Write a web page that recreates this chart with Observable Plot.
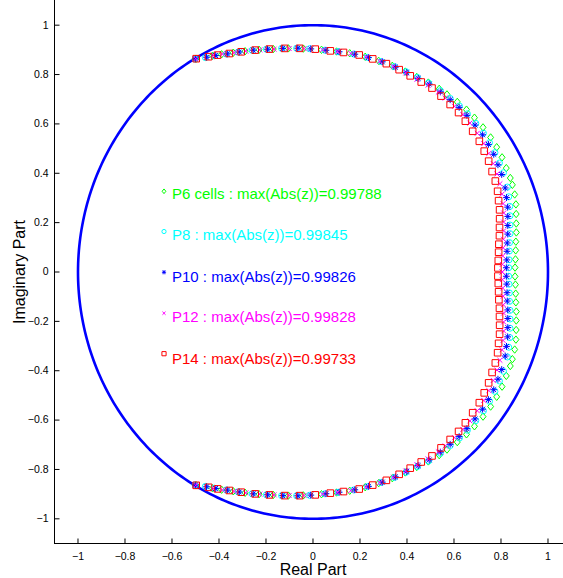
<!DOCTYPE html>
<html><head><meta charset="utf-8">
<script src="https://cdn.jsdelivr.net/npm/d3@7"></script>
<script src="https://cdn.jsdelivr.net/npm/@observablehq/plot@0.6"></script>
<style>html,body{margin:0;padding:0;background:#fff}#chart svg{display:block}</style>
</head><body><div id="chart"></div>
<script>
// ---- data: eigenvalues (upper half-plane; conjugates mirror them), polar form: angle in degrees, modulus
const seriesNames = ["P6 cells", "P8", "P10", "P12", "P14"];
const seriesColors = ["#00ff00", "#00ffff", "#0000ff", "#ff00ff", "#ff0000"];
const seriesMaxAbs = ["0.99788", "0.99845", "0.99826", "0.99828", "0.99733"];

const p6Angle = [119.9,116.0,113.8,110.9,107.9,104.3,100.6,96.6,92.6,87.7,83.6,80.0,75.7,71.9,68.0,64.2,60.8,57.4,54.1,51.6,48.3,45.2,42.3,39.0,35.8,32.9,30.0,27.1,24.4,22.6,20.1,17.6,15.2,12.8,10.5,8.1,5.8,3.4,1.2];
const p6Modulus = [0.997,0.975,0.964,0.951,0.940,0.929,0.919,0.912,0.906,0.901,0.899,0.900,0.900,0.900,0.901,0.902,0.905,0.911,0.916,0.918,0.923,0.927,0.929,0.931,0.932,0.931,0.929,0.924,0.922,0.919,0.914,0.906,0.896,0.887,0.880,0.872,0.867,0.863,0.860];

const p8Angle = [120.2,117.8,115.6,112.7,109.7,106.1,102.4,98.4,94.4,90.9,86.8,83.2,78.9,75.1,71.2,67.4,64.0,60.6,57.3,53.6,50.3,47.2,44.3,41.0,37.8,34.9,32.0,29.1,26.4,22.6,20.1,17.6,15.2,12.8,10.5,8.1,5.8,3.4,1.2];
const p8Modulus = [0.998,0.982,0.971,0.957,0.946,0.935,0.924,0.916,0.909,0.905,0.900,0.899,0.900,0.900,0.901,0.902,0.903,0.905,0.910,0.913,0.914,0.917,0.918,0.918,0.918,0.916,0.913,0.908,0.905,0.896,0.887,0.879,0.869,0.860,0.853,0.845,0.840,0.836,0.833];

const p10Angle = [120.1,117.5,115.3,112.4,109.4,105.8,102.1,98.1,94.1,90.6,86.5,82.9,78.6,74.8,70.9,67.1,63.7,60.3,57.0,53.4,50.1,47.0,44.1,40.8,37.6,34.7,31.8,28.9,26.2,22.6,20.1,17.6,15.2,12.8,10.5,8.1,5.8,3.4,1.2];
const p10Modulus = [0.998,0.981,0.970,0.956,0.945,0.934,0.923,0.915,0.909,0.904,0.900,0.899,0.900,0.900,0.901,0.901,0.901,0.903,0.908,0.909,0.910,0.912,0.912,0.911,0.911,0.908,0.905,0.899,0.895,0.886,0.877,0.869,0.859,0.850,0.843,0.835,0.830,0.826,0.823];

const p12Angle = [120.0,115.8,113.6,110.7,107.7,104.1,100.4,96.4,92.4,87.4,83.3,79.7,75.4,71.6,67.7,63.9,60.5,57.1,53.8,51.4,48.1,45.0,42.1,38.8,35.6,32.7,29.8,26.9,24.2,21.4,18.9,16.4,14.0,11.6,9.3,6.9,4.6,2.2,0.0];
const p12Modulus = [0.998,0.975,0.964,0.950,0.939,0.928,0.918,0.911,0.906,0.901,0.899,0.900,0.900,0.900,0.900,0.898,0.898,0.902,0.903,0.902,0.902,0.902,0.900,0.897,0.894,0.889,0.884,0.878,0.872,0.864,0.855,0.846,0.836,0.828,0.821,0.815,0.810,0.806,0.805];

const p14Angle = [119.9,117.0,114.8,111.9,108.9,105.3,101.6,97.6,93.6,89.4,85.3,81.7,77.4,73.6,69.7,65.9,62.5,59.1,55.8,52.6,49.3,46.2,43.3,40.0,36.8,33.9,31.0,28.1,25.4,22.6,20.1,17.6,15.2,12.8,10.5,8.1,5.8,3.4,1.2];
const p14Modulus = [0.997,0.979,0.968,0.954,0.943,0.932,0.922,0.914,0.908,0.903,0.899,0.899,0.901,0.900,0.900,0.898,0.896,0.897,0.901,0.897,0.895,0.895,0.891,0.887,0.884,0.878,0.872,0.864,0.859,0.851,0.841,0.833,0.823,0.814,0.807,0.799,0.794,0.790,0.787];

const xTicks = [-1, -0.8, -0.6, -0.4, -0.2, 0, 0.2, 0.4, 0.6, 0.8, 1];
const xTickLabels = ["\u22121", "\u22120.8", "\u22120.6", "\u22120.4", "\u22120.2", "0", "0.2", "0.4", "0.6", "0.8", "1"];
const yTicks = [-1, -0.8, -0.6, -0.4, -0.2, 0, 0.2, 0.4, 0.6, 0.8, 1];
const yTickLabels = ["\u22121", "\u22120.8", "\u22120.6", "\u22120.4", "\u22120.2", "0", "0.2", "0.4", "0.6", "0.8", "1"];

// ---- helpers
function eigenPoints(angle, modulus) {
  const pts = [];
  angle.forEach((t, i) => {
    const a = t * Math.PI / 180;
    pts.push({re: modulus[i] * Math.cos(a), im: modulus[i] * Math.sin(a)});
    pts.push({re: modulus[i] * Math.cos(a), im: -modulus[i] * Math.sin(a)});
  });
  return pts;
}
const rad = (size) => Math.sqrt(size / Math.PI);
const symDiamond = {draw(c, s) { const r = rad(s); c.moveTo(0, -1.12 * r); c.lineTo(0.9 * r, 0); c.lineTo(0, 1.12 * r); c.lineTo(-0.9 * r, 0); c.closePath(); }};
const symCircle = {draw(c, s) { const r = rad(s); c.moveTo(r, 0); c.arc(0, 0, r, 0, 2 * Math.PI); }};
const symAsterisk = {draw(c, s) { const r = rad(s), d = 0.72 * r;
  c.moveTo(-r, 0); c.lineTo(r, 0); c.moveTo(0, -r); c.lineTo(0, r);
  c.moveTo(-d, -d); c.lineTo(d, d); c.moveTo(-d, d); c.lineTo(d, -d); }};
const symTimes = {draw(c, s) { const r = rad(s) * 0.75;
  c.moveTo(-r, -r); c.lineTo(r, r); c.moveTo(-r, r); c.lineTo(r, -r); }};
const symSquare = {draw(c, s) { const r = rad(s); c.rect(-r, -r, 2 * r, 2 * r); }};
const tickUp = {draw(c) { c.moveTo(0, 0); c.lineTo(0, -5); }};
const tickRight = {draw(c) { c.moveTo(0, 0); c.lineTo(5, 0); }};

const series = [
  {pts: eigenPoints(p6Angle, p6Modulus), sym: symDiamond, r: 3.3},
  {pts: eigenPoints(p8Angle, p8Modulus), sym: symCircle, r: 3.0},
  {pts: eigenPoints(p10Angle, p10Modulus), sym: symAsterisk, r: 3.4},
  {pts: eigenPoints(p12Angle, p12Modulus), sym: symTimes, r: 3.3},
  {pts: eigenPoints(p14Angle, p14Modulus), sym: symSquare, r: 3.3}
];

// unit circle reference
const circle = d3.range(0, 361, 1).map(t => ({re: Math.cos(t * Math.PI / 180), im: Math.sin(t * Math.PI / 180)}));

const legendTextY = [0.317, 0.148, -0.021, -0.183, -0.352];
const legendMarkY = [0.327, 0.164, -0.001, -0.167, -0.331];

const font = "'Liberation Sans', Arial, Helvetica, sans-serif";
const marks = [
  Plot.line(circle, {x: "re", y: "im", stroke: "#0000ff", strokeWidth: 2.6})
];
series.forEach((s, i) => {
  marks.push(Plot.dot(s.pts, {x: "re", y: "im", symbol: s.sym, r: s.r, stroke: seriesColors[i], fill: "none", strokeWidth: 1}));
});
series.forEach((s, i) => {
  marks.push(Plot.dot([0], {x: -0.634, y: legendMarkY[i], symbol: s.sym, r: 2.1, stroke: seriesColors[i], fill: "none", strokeWidth: 1}));
  marks.push(Plot.text([0], {x: -0.6, y: legendTextY[i], text: () => `${seriesNames[i]} : max(Abs(z))=${seriesMaxAbs[i]}`,
    fill: seriesColors[i], textAnchor: "start", fontSize: 15, fontFamily: font}));
});
// axes
marks.push(
  Plot.ruleX([-1.1], {stroke: "#000", strokeWidth: 1}),
  Plot.ruleY([-1.1], {stroke: "#000", strokeWidth: 1}),
  Plot.dot(xTicks, {x: d => d, y: -1.1, symbol: tickUp, stroke: "#000", strokeWidth: 1}),
  Plot.dot(yTicks, {x: -1.1, y: d => d, symbol: tickRight, stroke: "#000", strokeWidth: 1}),
  Plot.text(xTicks, {x: d => d, y: -1.1, text: (d, i) => xTickLabels[i], dy: 13.5, fontSize: 10.5, fill: "#000", fontFamily: font}),
  Plot.text(yTicks, {x: -1.1, y: d => d, text: (d, i) => yTickLabels[i], dx: -6, textAnchor: "end", fontSize: 10.5, fill: "#000", fontFamily: font}),
  Plot.text([0], {x: 0, y: -1.1, text: () => "Real Part", dy: 26.5, fontSize: 16, fill: "#000", fontFamily: font}),
  Plot.text([0], {x: -1.1, y: 0, text: () => "Imaginary Part", dx: -35, rotate: -90, fontSize: 16, fill: "#000", fontFamily: font})
);

const chart = Plot.plot({
  width: 563, height: 578,
  marginLeft: 54, marginRight: 0, marginTop: 0, marginBottom: 35,
  x: {domain: [-1.1, 1.066], axis: null},
  y: {domain: [-1.1, 1.1], axis: null},
  style: {background: "white", fontFamily: font, overflow: "hidden"},
  marks
});
document.getElementById("chart").appendChild(chart);
</script>
</body></html>
